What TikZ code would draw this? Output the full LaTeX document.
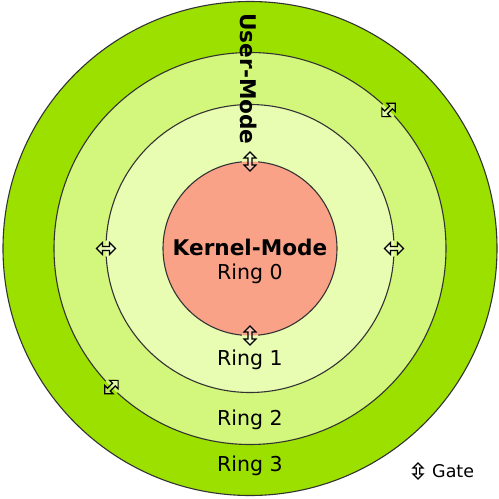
\documentclass[tikz,border=0pt]{standalone}
\usepackage{fontspec}
\setmainfont{DejaVu Sans}
\usetikzlibrary{calc}
\definecolor{rthree}{RGB}{156,224,0}
\definecolor{rtwo}{RGB}{211,246,124}
\definecolor{rone}{RGB}{232,252,178}
\definecolor{rzero}{RGB}{250,162,136}
\tikzset{
  ringline/.style={draw=black!80, line width=1.1pt},
  lbl/.style={font=\fontsize{20.5}{23}\selectfont, inner sep=0pt},
  blbl/.style={font=\fontsize{21.6}{24}\selectfont\bfseries, inner sep=0pt},
  gatearrow/.pic={
    \draw[line width=1.2pt, fill=white, fill opacity=0.35, draw opacity=1, line join=miter]
      (0,-9.5) -- (6,-3.5) -- (2,-3.5) -- (2,3.5) -- (6,3.5) -- (0,9.5)
      -- (-6,3.5) -- (-2,3.5) -- (-2,-3.5) -- (-6,-3.5) -- cycle;
  }
}
\begin{document}
\begin{tikzpicture}[x=1pt,y=-1pt]
\useasboundingbox (0,0) rectangle (499,499);
\coordinate (c) at (250,248.5);
% fills
\fill[rthree] (c) circle (247);
\fill[rtwo] (c) circle (196);
\fill[rone] (c) circle (144);
\fill[rzero] (c) circle (87);
% lines
\draw[ringline] (c) circle (247);
\draw[ringline] (c) circle (196);
\draw[ringline] (c) circle (144);
\draw[ringline] (c) circle (87);
% gate positions
\coordinate (g0t) at ($(c)+(0,-87)$);
\coordinate (g0b) at ($(c)+(0,87)$);
\coordinate (g1l) at ($(c)+(-144,0)$);
\coordinate (g1r) at ($(c)+(144,0)$);
\coordinate (g2ur) at ($(c)+(138.6,-138.6)$);
\coordinate (g2ll) at ($(c)+(-138.6,138.6)$);
% gaps in the lines
\foreach \g/\inner/\outer/\R in {g0t/rzero/rone/87, g0b/rzero/rone/87, g1l/rone/rtwo/144, g1r/rone/rtwo/144, g2ur/rtwo/rthree/196, g2ll/rtwo/rthree/196}{
  \begin{scope}
    \clip (\g) circle (8);
    \fill[\outer] (\g) circle (10);
    \fill[\inner] (c) circle (\R);
  \end{scope}
}
% gate arrows
\pic at (g0t) {gatearrow};
\pic at (g0b) {gatearrow};
\pic[rotate=90] at (g1l) {gatearrow};
\pic[rotate=90] at (g1r) {gatearrow};
\pic[rotate=-45] at (g2ur) {gatearrow};
\pic[rotate=-45] at (g2ll) {gatearrow};
% texts
\node[blbl] (kernel) at (250,247) {Kernel-Mode};
\node[lbl] (ring0) at (250,274) {Ring 0};
\node[lbl] (ring1) at (250,360) {Ring 1};
\node[lbl] (ring2) at (250,420) {Ring 2};
\node[lbl] (ring3) at (250,466) {Ring 3};
\node[blbl, rotate=-90] (user) at (249,79) {User-Mode};
% legend
\pic[scale=0.85] at (418,471) {gatearrow};
\node[font=\fontsize{17.5}{20}\selectfont, inner sep=0pt, anchor=west] (gate) at (432,471) {Gate};
\end{tikzpicture}
\end{document}
